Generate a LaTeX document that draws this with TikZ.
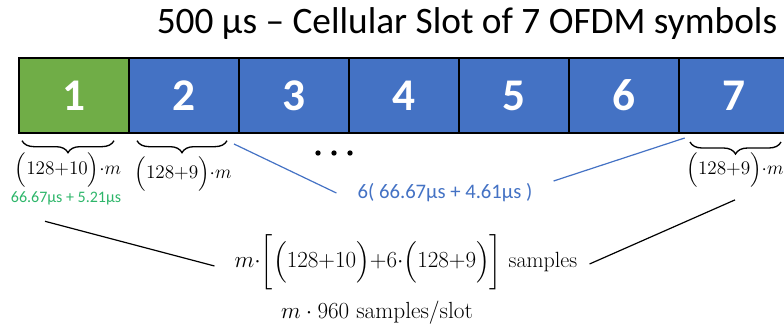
\documentclass[tikz,border=0pt]{standalone}
\usepackage{amsmath}
\usepackage{fontspec}
\usetikzlibrary{calc,positioning,decorations.pathreplacing}
\newfontfamily\slotfont{Carlito}
\definecolor{SymbolGreen}{HTML}{70AD47}
\definecolor{SymbolBlue}{HTML}{4472C4}
\definecolor{TimeGreen}{HTML}{2EB66A}
\tikzset{
  symbolbox/.style={draw=black,line width=1.5pt,minimum width=82.5pt,minimum height=56.25pt,
    inner sep=0pt,text=white,font=\slotfont\fontsize{34}{36}\selectfont\bfseries},
  titlelabel/.style={font=\slotfont\fontsize{28}{30}\selectfont,inner sep=0pt},
  cpbrace/.style={decorate,decoration={brace,mirror,amplitude=9pt},line width=1pt},
  lenlabel/.style={font=\fontsize{15}{17}\selectfont,inner sep=1pt},
  timelabel/.style={font=\slotfont\fontsize{12}{14}\selectfont,inner sep=1pt},
  sumlabel/.style={font=\slotfont\fontsize{15.5}{17}\selectfont,text=SymbolBlue,inner xsep=15.75pt,inner ysep=1pt},
  totlabel/.style={font=\fontsize{16.5}{18}\selectfont,inner xsep=15pt,inner ysep=1pt},
  guide/.style={draw=black,line width=.9pt},
  blueguide/.style={draw=SymbolBlue,line width=.9pt}
}

\begin{document}
\begin{tikzpicture}[x=.75pt,y=-.75pt]
  \useasboundingbox (0,0) rectangle (784,328);
  \node[titlelabel] (title) at (467,24) {500 µs – Cellular Slot of 7 OFDM symbols};
  \node[symbolbox,fill=SymbolGreen] (s1) at (74,95.5) {1};
  \foreach \i in {2,...,7}{
    \node[symbolbox,fill=SymbolBlue] (s\i) at ({74+110*(\i-1)},95.5) {\i};
  }
  \draw[cpbrace] ([xshift=3pt,yshift=-5pt]s1.south west) -- ([xshift=-12pt,yshift=-5pt]s1.south east);
  \draw[cpbrace] ([xshift=6.75pt,yshift=-5pt]s2.south west) -- ([xshift=-9.75pt,yshift=-5pt]s2.south east);
  \draw[cpbrace] ([xshift=9pt,yshift=-6pt]s7.south west) -- ([xshift=-6.75pt,yshift=-6pt]s7.south east);
  \node[lenlabel] (l1) at (68,170) {$\Big(128{+}10\Big){\cdot}m$};
  \node[lenlabel] (l2) at (183,174) {$\Big(128{+}9\Big){\cdot}m$};
  \node[lenlabel] (l7) at (735,170) {$\Big(128{+}9\Big){\cdot}m$};
  \node[timelabel,text=TimeGreen] (g1) at (66,198) {66.67µs + 5.21µs};
  \foreach \x in {318,334,350}{
    \fill (\x,153) circle (2pt);
  }
  \node[sumlabel] (b) at (445,193) {6( 66.67µs + 4.61µs )};
  \draw[blueguide] ([xshift=-4.5pt,yshift=-7.5pt]s2.south east) -- (b.west);
  \draw[blueguide] ($(b.east)+(0,-12)$) -- ([xshift=5pt,yshift=-3pt]s7.south west);
  \node[totlabel] (tot) at (406,262)
    {$m{\cdot}\bigg[\Big(128{+}10\Big){+}6{\cdot}\Big(128{+}9\Big)\bigg]$ samples};
  \node[font=\fontsize{17.5}{19}\selectfont] (slot) at (377,313) {$m\cdot 960$ samples/slot};
  \draw[guide] ($(g1.south)+(-21,15)$) -- ($(tot.west)+(0,4)$);
  \draw[guide] ($(l7.south)+(0,11)$) -- ($(tot.east)+(-8,2)$);
\end{tikzpicture}
\end{document}
